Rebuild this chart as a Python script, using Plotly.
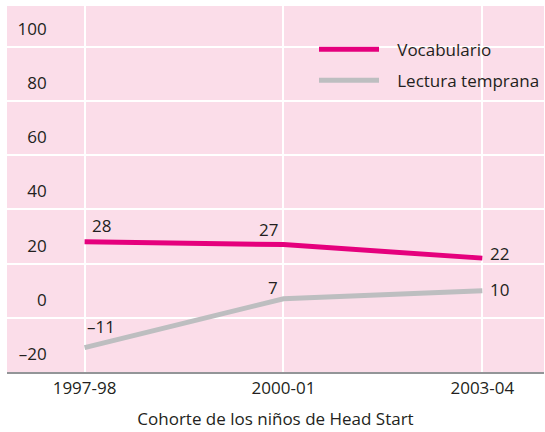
import plotly.graph_objects as go

# Cohorts of Head Start children and effect-size series
cohorts = ["1997-98", "2000-01", "2003-04"]
vocabulario = [28, 27, 22]
lectura_temprana = [-11, 7, 10]

y_ticks = [-20, 0, 20, 40, 60, 80, 100]
y_tick_text = ["–20", "0", "20", "40", "60", "80", "100"]

PINK_BG = "#fbdde9"
MAGENTA = "#e5007d"
GREY_LINE = "#bdbec0"
TEXT = "#231f20"
FONT = "Open Sans"
FS = 17

x_pos = list(range(len(cohorts)))
PAD = "\u00a0\u00a0\u00a0"


def fmt(v):
    return f"–{abs(v)}" if v < 0 else str(v)


fig = go.Figure()
fig.add_trace(go.Scatter(
    x=x_pos, y=vocabulario, mode="lines", name=PAD + "Vocabulario",
    line=dict(color=MAGENTA, width=5), legendgroup="a",
))
fig.add_trace(go.Scatter(
    x=x_pos, y=lectura_temprana, mode="lines", name=PAD + "Lectura temprana",
    line=dict(color=GREY_LINE, width=5), legendgroup="b",
))

# value labels next to each point
annotations = []
voc_place = [
    dict(xanchor="left", yanchor="bottom", xshift=5, yshift=3),
    dict(xanchor="right", yanchor="bottom", xshift=-3, yshift=2),
    dict(xanchor="left", yanchor="middle", xshift=6, yshift=5),
]
lec_place = [
    dict(xanchor="left", yanchor="bottom", xshift=0, yshift=8),
    dict(xanchor="right", yanchor="bottom", xshift=-3, yshift=-2),
    dict(xanchor="left", yanchor="middle", xshift=6, yshift=1),
]
for series, places in ((vocabulario, voc_place), (lectura_temprana, lec_place)):
    for xi, v, p in zip(x_pos, series, places):
        annotations.append(dict(
            x=xi, y=v, xref="x", yref="y", text=fmt(v), showarrow=False,
            font=dict(family=FONT, size=FS, color=TEXT), **p,
        ))

# pink panel behind the legend that interrupts the grid
legend_panel = dict(
    type="rect", xref="paper", yref="paper", layer="between",
    x0=0.572, x1=0.968, y0=0.727, y1=0.948,
    fillcolor=PINK_BG, line=dict(width=0),
)

fig.update_layout(
    width=545, height=432,
    margin=dict(l=7, r=0, t=6, b=60),
    paper_bgcolor="white",
    plot_bgcolor=PINK_BG,
    font=dict(family=FONT, size=FS, color=TEXT),
    showlegend=True,
    legend=dict(
        x=0.572, y=0.93, xanchor="left", yanchor="top",
        bgcolor="rgba(0,0,0,0)", borderwidth=0,
        font=dict(family=FONT, size=FS, color=TEXT),
        itemwidth=60, tracegroupgap=6, traceorder="grouped",
    ),
    shapes=[legend_panel],
    xaxis=dict(
        range=[-0.39, 2.31],
        tickvals=x_pos, ticktext=cohorts,
        showgrid=True, gridcolor="white", gridwidth=2,
        zeroline=False,
        showline=True, linecolor="#939598", linewidth=2,
        ticks="",
        tickfont=dict(family=FONT, size=FS, color=TEXT),
        title=dict(text="Cohorte de los niños de Head Start",
                   font=dict(family=FONT, size=FS, color=TEXT), standoff=15),
        fixedrange=True,
    ),
    yaxis=dict(
        range=[-20, 115],
        tickvals=y_ticks, ticktext=y_tick_text,
        showgrid=True, gridcolor="white", gridwidth=2,
        zeroline=False, showline=False, ticks="",
        anchor="free", position=0.074,
        ticklabelshift=-18,
        tickfont=dict(family=FONT, size=FS, color=TEXT),
        fixedrange=True,
    ),
    annotations=annotations,
)

fig.write_html("out.html")
